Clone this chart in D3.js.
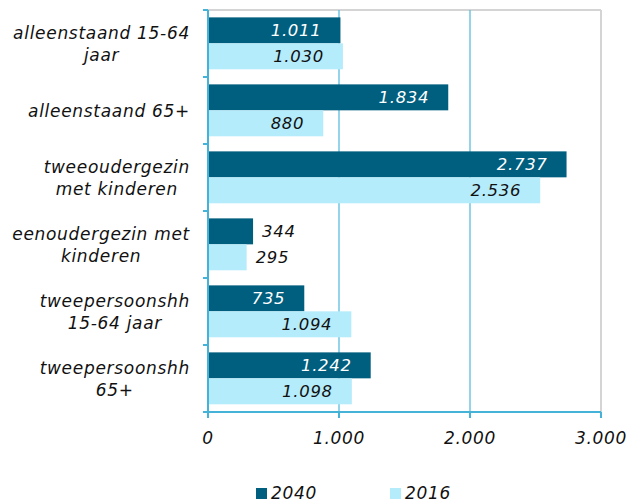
<!DOCTYPE html>
<html>
<head>
<meta charset="utf-8">
<script src="https://cdn.jsdelivr.net/npm/d3@7"></script>
<style>
  body { margin: 0; background: #fff; }
  text { font-family: "DejaVu Sans", Verdana, sans-serif; font-style: italic; }
</style>
</head>
<body>
<div id="chart"></div>
<script>
// categories, each one split in the lines shown on the chart
var categories = [
  ["alleenstaand 15-64", "jaar"],
  ["alleenstaand 65+"],
  ["tweeoudergezin", "met kinderen"],
  ["eenoudergezin met", "kinderen"],
  ["tweepersoonshh", "15-64 jaar"],
  ["tweepersoonshh", "65+"]
];
var series = ["2040", "2016"];
var values2040 = [1011, 1834, 2737, 344, 735, 1242];
var values2016 = [1030, 880, 2536, 295, 1094, 1098];
var xTicks = [0, 1000, 2000, 3000];
var colors = { "2040": "#005e7e", "2016": "#b5ecfb" };

var W = 629, H = 504;
var margin = { top: 10, right: 28, bottom: 92, left: 208 };
var iw = W - margin.left - margin.right,
    ih = H - margin.top - margin.bottom;

function fmt(v) { return d3.format(",")(v).replace(/,/g, "."); }

var svg = d3.select("#chart").append("svg")
  .attr("width", W).attr("height", H);
var g = svg.append("g")
  .attr("transform", "translate(" + margin.left + "," + margin.top + ")");

var x = d3.scaleLinear().domain([0, 3000]).range([0, iw]);
var y = d3.scaleBand().domain(d3.range(categories.length)).range([0, ih]);
var inner = d3.scaleBand().domain(series).range([y.bandwidth() * 0.11, y.bandwidth() * 0.885]);

// frame: grey top and right
g.append("line").attr("x1", 0).attr("x2", iw).attr("y1", 0).attr("y2", 0)
  .style("stroke", "#d4d4d4").style("stroke-width", 2);
g.append("line").attr("x1", iw).attr("x2", iw).attr("y1", 0).attr("y2", ih)
  .style("stroke", "#d4d4d4").style("stroke-width", 2);

// gridlines
g.selectAll(".grid").data(xTicks.filter(function (d) { return d > 0 && d < 3000; }))
  .enter().append("line")
  .attr("x1", function (d) { return x(d); }).attr("x2", function (d) { return x(d); })
  .attr("y1", 0).attr("y2", ih)
  .style("stroke", "#5bbedf").style("stroke-width", 1.3);

// bars
var rows = [];
categories.forEach(function (c, i) {
  rows.push({ i: i, s: "2040", v: values2040[i] });
  rows.push({ i: i, s: "2016", v: values2016[i] });
});

g.selectAll(".bar").data(rows).enter().append("rect")
  .attr("x", 0)
  .attr("y", function (d) { return y(d.i) + inner(d.s); })
  .attr("width", function (d) { return x(d.v); })
  .attr("height", inner.bandwidth())
  .style("fill", function (d) { return colors[d.s]; });

// value labels
g.selectAll(".val").data(rows).enter().append("text")
  .attr("y", function (d) { return y(d.i) + inner(d.s) + inner.bandwidth() / 2; })
  .attr("dy", "0.36em")
  .style("font-size", "16.5px").style("letter-spacing", "0.7px")
  .each(function (d) {
    var t = d3.select(this);
    if (x(d.v) > 80) {
      t.attr("x", x(d.v) - 19).attr("text-anchor", "end")
        .style("fill", d.s === "2040" ? "#fff" : "#111");
    } else {
      t.attr("x", x(d.v) + 9).attr("text-anchor", "start").style("fill", "#111");
    }
  })
  .text(function (d) { return fmt(d.v); });

// axes
var axisColor = "#45b3d8";
var yAxis = g.append("g");
yAxis.append("line").attr("x1", 0).attr("x2", 0).attr("y1", 0).attr("y2", ih)
  .style("stroke", axisColor).style("stroke-width", 2);
yAxis.selectAll(".tick").data(d3.range(categories.length + 1)).enter().append("line")
  .attr("x1", -5).attr("x2", 0)
  .attr("y1", function (d) { return d * y.step(); })
  .attr("y2", function (d) { return d * y.step(); })
  .style("stroke", axisColor).style("stroke-width", 2);

var xAxis = g.append("g").attr("transform", "translate(0," + ih + ")");
xAxis.append("line").attr("x1", -5).attr("x2", iw).attr("y1", 0).attr("y2", 0)
  .style("stroke", axisColor).style("stroke-width", 2);
xAxis.selectAll(".tick").data(xTicks).enter().append("line")
  .attr("x1", function (d) { return x(d); }).attr("x2", function (d) { return x(d); })
  .attr("y1", 0).attr("y2", 6)
  .style("stroke", axisColor).style("stroke-width", 2);
xAxis.selectAll(".tl").data(xTicks).enter().append("text")
  .attr("x", function (d) { return x(d); })
  .attr("y", 26)
  .attr("dy", "0.36em")
  .attr("text-anchor", "middle")
  .style("font-size", "17px").style("letter-spacing", "0.7px").style("fill", "#111")
  .text(function (d) { return fmt(d); });

// category labels: block right-aligned, lines centered within block
var labelRight = -18;
categories.forEach(function (lines, i) {
  var lg = g.append("g");
  var cy = y(i) + y.bandwidth() / 2;
  var lh = 22;
  var texts = lg.selectAll("text").data(lines).enter().append("text")
    .attr("y", function (d, k) { return cy + (k - (lines.length - 1) / 2) * lh; })
    .attr("dy", "0.36em")
    .attr("text-anchor", "middle")
    .style("font-size", "17px").style("letter-spacing", "0.7px").style("fill", "#111")
    .text(function (d) { return d; });
  var maxW = 0;
  texts.each(function () { maxW = Math.max(maxW, this.getComputedTextLength()); });
  texts.attr("x", labelRight - maxW / 2);
});

// legend
var legend = svg.append("g").attr("transform", "translate(0,493)");
var legX = [256, 390];
series.forEach(function (s, k) {
  legend.append("rect").attr("x", legX[k]).attr("y", -5).attr("width", 11).attr("height", 11)
    .style("fill", colors[s]);
  legend.append("text").attr("x", legX[k] + 15).attr("y", 0).attr("dy", "0.36em")
    .style("font-size", "17px").style("letter-spacing", "0.7px").style("fill", "#111").text(s);
});
</script>
</body>
</html>
